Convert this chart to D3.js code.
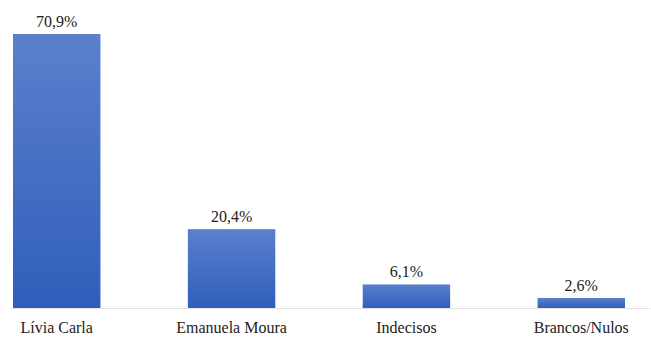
<html lang="pt">
<head>
    <meta charset="utf-8">
    <title>Intenção de voto</title>
    <script src="https://d3js.org/d3.v7.min.js"></script>
    <style type="text/css">
        body {
            margin: 0;
            background: #fff;
        }
        svg text {
            font-family: Liberation Serif, DejaVu Serif, serif;
        }
        .axis path {
            stroke: #e2e2e2;
        }
    </style>
</head>
<body>
<div id="chart">
    <script type="text/javascript">

        var candidates = ["Lívia Carla", "Emanuela Moura", "Indecisos", "Brancos/Nulos"];
        var values = [70.9, 20.4, 6.1, 2.6];
        var valueLabels = ["70,9%", "20,4%", "6,1%", "2,6%"];

        var width = 651,
            height = 344,
            baseline = 308;

        var svg = d3.select("#chart").append("svg")
            .attr("width", width)
            .attr("height", height);

        var defs = svg.append("defs");
        var grad = defs.append("linearGradient")
            .attr("id", "barGrad")
            .attr("x1", 0).attr("y1", 0)
            .attr("x2", 0).attr("y2", 1);
        grad.append("stop").attr("offset", "0%").attr("stop-color", "#5b80cc");
        grad.append("stop").attr("offset", "100%").attr("stop-color", "#2f5ebb");

        var x = d3.scaleBand()
            .domain(candidates)
            .range([13, 625])
            .paddingInner(0.5)
            .paddingOuter(0);

        var y = d3.scaleLinear()
            .domain([0, 70.9])
            .range([baseline, 34]);

        // baseline
        svg.append("g")
            .attr("class", "axis")
            .attr("transform", "translate(0," + baseline + ")")
            .call(d3.axisBottom(d3.scaleLinear().range([10, 650])).ticks(0).tickSizeOuter(0));

        var rows = candidates.map(function (c, i) {
            return {name: c, value: values[i], label: valueLabels[i]};
        });

        svg.selectAll("rect.bar")
            .data(rows)
            .enter().append("rect")
            .attr("class", "bar")
            .attr("x", function (d) { return x(d.name); })
            .attr("width", x.bandwidth())
            .attr("y", function (d) { return y(d.value); })
            .attr("height", function (d) { return baseline - y(d.value); })
            .attr("fill", "url(#barGrad)");

        svg.selectAll("text.value")
            .data(rows)
            .enter().append("text")
            .attr("class", "value")
            .style("font-size", "16px")
            .attr("fill", "#222")
            .attr("x", function (d) { return x(d.name) + x.bandwidth() / 2; })
            .attr("y", function (d) { return y(d.value) - 7; })
            .attr("text-anchor", "middle")
            .text(function (d) { return d.label; });

        svg.selectAll("text.cat")
            .data(rows)
            .enter().append("text")
            .attr("class", "cat")
            .style("font-size", "16px")
            .attr("fill", "#222")
            .attr("x", function (d) { return x(d.name) + x.bandwidth() / 2; })
            .attr("y", 333)
            .attr("text-anchor", "middle")
            .text(function (d) { return d.name; });

    </script>
</div>
</body>
</html>
